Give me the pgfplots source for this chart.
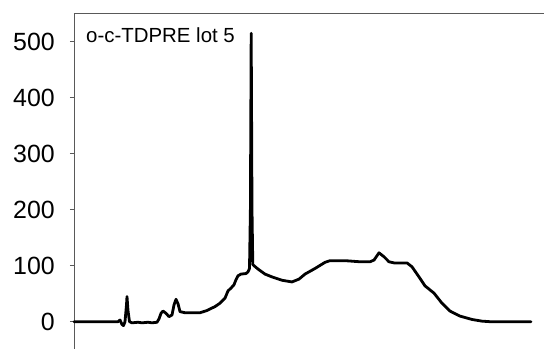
\documentclass[border=0pt]{standalone}
\usepackage{fontspec}
\setmainfont{Liberation Sans}
\usepackage{pgfplots}
\pgfplotsset{compat=1.18}
\begin{document}
\begin{tikzpicture}
\begin{axis}[
  scale only axis,
  width=470bp, height=336bp,
  xmin=74, xmax=544, ymin=-48.75, ymax=551.25,
  axis x line*=top, axis y line*=left,
  axis line style={draw=black!65, line width=0.9bp},
  xtick=\empty,
  ytick={0,100,200,300,400,500},
  tick align=outside,
  major tick length=4bp,
  tick style={draw=black!65, line width=0.9bp},
  /pgf/number format/assume math mode=true,
  yticklabel style={font=\fontsize{25}{29}\selectfont, inner sep=0pt, anchor=east, xshift=-15bp},
  clip=false,
]
\addplot[black, line width=2.8bp, line join=round, line cap=round] coordinates {
(74,0) (100,0) (118,0) (120,3) (122,-5) (123.5,-7) (125,0) (126.5,30) (127,45) (128,20) (129.5,0)
(132,-2) (138,-1) (142,-2) (148,-1) (152,-2) (157,-1) (159,5) (161,15) (163,19) (166,15) (169,9) (172,12)
(174,30) (176,40) (178,32) (180,18) (185,16) (195,16) (200,16) (207,20) (215,27) (220,33) (225,42)
(228,55) (231,60) (234,66) (236,75) (238,82) (241,85) (246,86) (248,89) (249.5,95) (250.4,200)
(251.2,515) (252,200) (252.8,102) (254,100) (258,94) (265,85) (272,80) (282,74) (292,71) (299,76)
(305,85) (315,95) (325,106) (330,109) (345,109) (360,107) (370,107) (374,110) (379,123) (384,116)
(389,107) (394,105) (407,105) (412,98) (419,80) (425,64) (434,51) (442,33) (450,19) (460,10)
(472,4) (482,1) (490,0) (531,0)
};
\node[anchor=base west, inner sep=0pt, font=\fontsize{20.5}{24}\selectfont] at (axis cs:86,498) {o-c-TDPRE lot 5};
\end{axis}
\pgfresetboundingbox
\path (-74bp,0) rectangle (470bp,349bp);
\end{tikzpicture}
\end{document}
